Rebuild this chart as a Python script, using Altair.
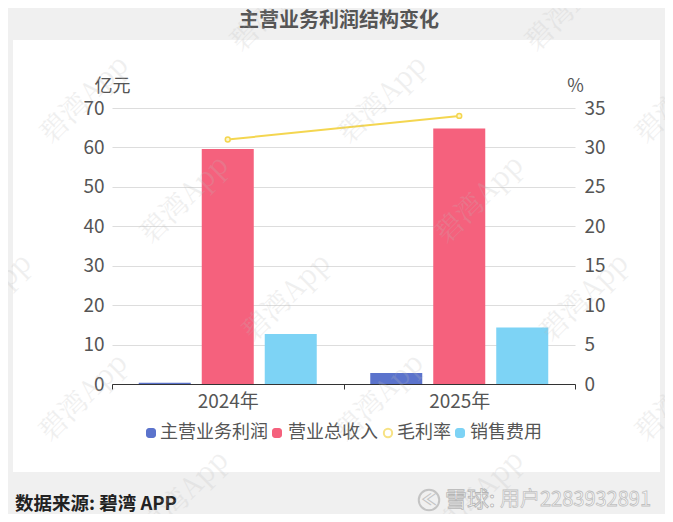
import altair as alt
import pandas as pd

years = ["2024年", "2025年"]
bar_series = ["主营业务利润", "营业总收入", "销售费用"]
legend_order = ["主营业务利润", "营业总收入", "毛利率", "销售费用"]
legend_colors = ["#5B73CC", "#F5617D", "#F4D650", "#7DD3F5"]
profit = [0.3, 2.8]
revenue = [59.6, 64.8]
expense = [12.7, 14.3]
margin = [31, 34]

FONT = "Noto Sans CJK SC"
GREY = "#F0F0F0"

bars = pd.DataFrame({
    "year": years * 3,
    "series": [bar_series[0]] * 2 + [bar_series[1]] * 2 + [bar_series[2]] * 2,
    "value": profit + revenue + expense,
})
line = pd.DataFrame({"year": years, "series": "毛利率", "value": margin})

one = alt.Data(values=[{"a": 0}])


def label(text, x, y, **kw):
    return alt.Chart(one).mark_text(text=text, font=FONT, **kw).encode(
        x=alt.value(x), y=alt.value(y)
    )


x_scale = alt.Scale(domain=years, paddingInner=0, paddingOuter=0)
color_scale = alt.Scale(domain=legend_order, range=legend_colors)
x_axis = alt.Axis(
    title=None,
    labelAngle=0,
    labelFont=FONT,
    labelFontSize=19,
    labelColor="#555555",
    labelPadding=3,
    domainColor="#333333",
    tickColor="#333333",
    tickSize=5,
    tickBand="extent",
    grid=False,
)

bar_layer = alt.Chart(bars).mark_bar(size=52).encode(
    x=alt.X("year:N", scale=x_scale, axis=x_axis),
    xOffset=alt.XOffset(
        "series:N",
        scale=alt.Scale(domain=bar_series, paddingInner=0.175, paddingOuter=0.425),
    ),
    y=alt.Y(
        "value:Q",
        scale=alt.Scale(domain=[0, 70]),
        axis=alt.Axis(
            title="亿元",
            titleAngle=0,
            titleX=0,
            titleY=-13,
            titleAlign="center",
            titleFont=FONT,
            titleFontSize=18,
            titleFontWeight="normal",
            titleColor="#555555",
            values=[0, 10, 20, 30, 40, 50, 60, 70],
            labelFont=FONT,
            labelFontSize=19,
            labelColor="#555555",
            labelPadding=8,
            ticks=False,
            domain=False,
            gridColor="#DDDDDD",
        ),
    ),
    color=alt.Color("series:N", scale=color_scale, legend=None),
)

line_layer = alt.Chart(line).mark_line(
    strokeWidth=2,
    point=alt.OverlayMarkDef(filled=True, fill="#FFF7C8", stroke="#F4D650", strokeWidth=1.5, size=24),
).encode(
    x=alt.X("year:N", scale=x_scale, axis=x_axis),
    y=alt.Y(
        "value:Q",
        scale=alt.Scale(domain=[0, 35]),
        axis=alt.Axis(
            orient="right",
            title="%",
            titleAngle=0,
            titleX=0,
            titleY=-13,
            titleAlign="center",
            titleFont=FONT,
            titleFontSize=18,
            titleFontWeight="normal",
            titleColor="#555555",
            values=[0, 5, 10, 15, 20, 25, 30, 35],
            labelFont=FONT,
            labelFontSize=19,
            labelColor="#555555",
            labelPadding=9,
            ticks=False,
            domain=False,
            grid=False,
        ),
    ),
    color=alt.Color("series:N", scale=color_scale, legend=None),
)

# grey page around the white panel
strips = [
    alt.Chart(one).mark_rect(color=GREY).encode(
        x=alt.value(x0), x2=alt.value(x1), y=alt.value(y0), y2=alt.value(y1)
    )
    for x0, x1, y0, y1 in [
        (-104, 553, -100, -68),
        (-104, 553, 364, 406),
        (-104, -99, -68, 364),
        (548, 553, -68, 364),
    ]
]

title = label("主营业务利润结构变化", 227, -87, fontSize=20, fontWeight="bold", color="#555555")
source = label("数据来源: 碧湾 APP", -97, 396, fontSize=18.5, fontWeight="bold", color="#222222", align="left")

# legend, drawn by hand because the symbols differ
legend_layers = []
for name, col, sx, tx in zip(legend_order, legend_colors, [39, 165, 276, 348], [48, 176, 285, 358]):
    if name == "毛利率":
        legend_layers.append(
            alt.Chart(one).mark_point(size=70, stroke=col, strokeWidth=2, fill="white", filled=True).encode(
                x=alt.value(sx), y=alt.value(325)
            )
        )
    else:
        legend_layers.append(
            alt.Chart(one).mark_rect(color=col, cornerRadius=3).encode(
                x=alt.value(sx - 5), x2=alt.value(sx + 5), y=alt.value(320), y2=alt.value(330)
            )
        )
    legend_layers.append(label(name, tx, 325, fontSize=18, align="left", color="#555555"))

logo = alt.Chart(one).mark_point(size=420, stroke="#C4C4C4", strokeWidth=2, opacity=1).encode(
    x=alt.value(317), y=alt.value(392)
)
logo_mark = label("≪", 317, 392, fontSize=16, color="#C4C4C4")
snow = label("雪球:", 333, 392, fontSize=22, align="left", color="#FFFFFF", stroke="#B5B5B5", strokeWidth=0.8)
user = label("用户2283932891", 388, 392, fontSize=20, align="left", color="#FFFFFF", stroke="#C0C0C0", strokeWidth=0.8)

# watermark centres, page pixels
marks_at = [
    (275, 8), (570, 8),
    (85, 100), (383, 100), (680, 100),
    (185, 200), (480, 200),
    (-12, 298), (287, 298), (585, 298),
    (84, 398), (380, 398), (680, 398),
    (185, 495), (480, 495),
]
watermarks = [
    alt.Chart(one).mark_text(
        text="碧湾App", font="Noto Serif CJK SC, Liberation Serif", fontSize=28, angle=315, color="#BBBBBB", opacity=0.22
    ).encode(x=alt.value(px - 112), y=alt.value(py - 108))
    for px, py in marks_at
]

chart = alt.layer(
    *strips, bar_layer, line_layer, title, source, *legend_layers, logo, logo_mark, snow, user, *watermarks
).resolve_scale(
    y="independent"
).properties(
    width=463,
    height=276,
    background="white",
    padding={"left": 104, "top": 100, "right": 90, "bottom": 130},
    autosize=alt.AutoSizeParams(type="none", contains="content"),
).configure_view(stroke=None)

chart.save("out.html", embed_options={"renderer": "svg", "actions": False})
